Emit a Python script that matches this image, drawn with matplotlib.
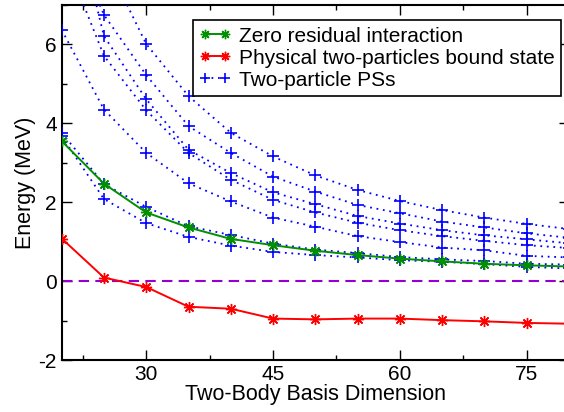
import numpy as np
import matplotlib
matplotlib.use('Agg')
import matplotlib.pyplot as plt
from matplotlib.ticker import MultipleLocator, FixedLocator

plt.rcParams['font.family'] = ['Liberation Sans', 'DejaVu Sans']
plt.rcParams['axes.unicode_minus'] = False

# ============================================================
# Data
# ============================================================
dims = [20, 25, 30, 35, 40, 45, 50, 55, 60, 65, 70, 75, 80]

zero_resid = [3.55, 2.47, 1.74, 1.36, 1.07, 0.91, 0.77, 0.66, 0.57, 0.50, 0.44, 0.40, 0.37]
bound_state = [1.08, 0.09, -0.15, -0.65, -0.70, -0.95, -0.97, -0.95, -0.95, -0.99, -1.02, -1.06, -1.08]

# two-particle pseudo-states, lowest to highest
ps1 = [3.67, 2.08, 1.47, 1.12, 0.90, 0.74, 0.66, 0.60, 0.53, 0.49, 0.43, 0.36, 0.32]
ps2 = [3.76, 2.46, 1.88, 1.39, 1.17, 0.95, 0.80, 0.71, 0.61, 0.55, 0.51, 0.44, 0.42]
ps3 = [6.37, 4.35, 3.25, 2.48, 2.02, 1.61, 1.38, 1.14, 0.99, 0.85, 0.78, 0.64, 0.60]
ps4 = [8.40, 5.71, 4.33, 3.25, 2.57, 2.06, 1.74, 1.48, 1.29, 1.14, 1.02, 0.91, 0.84]
ps5 = [10.6, 6.21, 4.61, 3.33, 2.74, 2.25, 1.95, 1.65, 1.46, 1.29, 1.16, 1.06, 0.96]
ps6 = [9.30, 6.75, 5.22, 3.93, 3.25, 2.65, 2.27, 1.93, 1.72, 1.51, 1.36, 1.21, 1.10]
ps7 = [12.0, 8.20, 6.01, 4.69, 3.76, 3.16, 2.68, 2.31, 2.03, 1.80, 1.61, 1.45, 1.32]
pseudo_states = [ps1, ps2, ps3, ps4, ps5, ps6, ps7]

# ============================================================
# Figure
# ============================================================
fig = plt.figure(figsize=(5.64, 4.12), dpi=100)
ax = fig.add_axes([61.7 / 564, 52 / 412, (569 - 61.7) / 564, 355 / 412])

star = (8, 2, 0)
for i, ps in enumerate(pseudo_states):
    ax.plot(dims, ps, color='blue', linestyle=(0, (1, 2.6)), linewidth=1.3,
            marker='+', markersize=9, markeredgewidth=1.2,
            label='Two-particle PSs' if i == 0 else None, zorder=3)

ax.plot(dims, zero_resid, color='#009000', linewidth=1.4, marker=star,
        markersize=8, markeredgewidth=1.0, label='Zero residual interaction', zorder=4)
ax.plot(dims, bound_state, color='red', linewidth=1.4, marker=star,
        markersize=8, markeredgewidth=1.0, label='Physical two-particles bound state', zorder=4)

ax.axhline(0, color='#9400d3', linestyle=(0, (5, 3)), linewidth=1.5, zorder=2)

ax.set_xlim(20, 80)
ax.set_ylim(-2, 7)
ax.xaxis.set_major_locator(FixedLocator([30, 45, 60, 75]))
ax.xaxis.set_minor_locator(FixedLocator([22.5, 37.5, 52.5, 67.5]))
ax.yaxis.set_major_locator(MultipleLocator(2))
ax.yaxis.set_minor_locator(MultipleLocator(1))
ax.tick_params(which='both', direction='in', top=True, right=True, labelsize=15)
ax.tick_params(which='major', length=7, width=1)
ax.tick_params(which='minor', length=3.5, width=1)
for sp in ax.spines.values():
    sp.set_linewidth(1.5)

ax.set_xlabel('Two-Body Basis Dimension', fontsize=15.5, labelpad=0)
ax.set_ylabel('Energy (MeV)', fontsize=15.5, labelpad=2)

handles, labels = ax.get_legend_handles_labels()
order = [labels.index('Zero residual interaction'),
         labels.index('Physical two-particles bound state'),
         labels.index('Two-particle PSs')]
leg = ax.legend([handles[k] for k in order], [labels[k] for k in order],
                loc='upper right', bbox_to_anchor=(0.985, 0.957), numpoints=2,
                fontsize=15, markerscale=0.85, handlelength=1.55, handletextpad=0.4,
                borderpad=0.3, labelspacing=0.15, borderaxespad=0,
                fancybox=False, framealpha=1, edgecolor='black')
leg.get_frame().set_linewidth(1.2)

fig.savefig('out.png', dpi=100, facecolor='white')
